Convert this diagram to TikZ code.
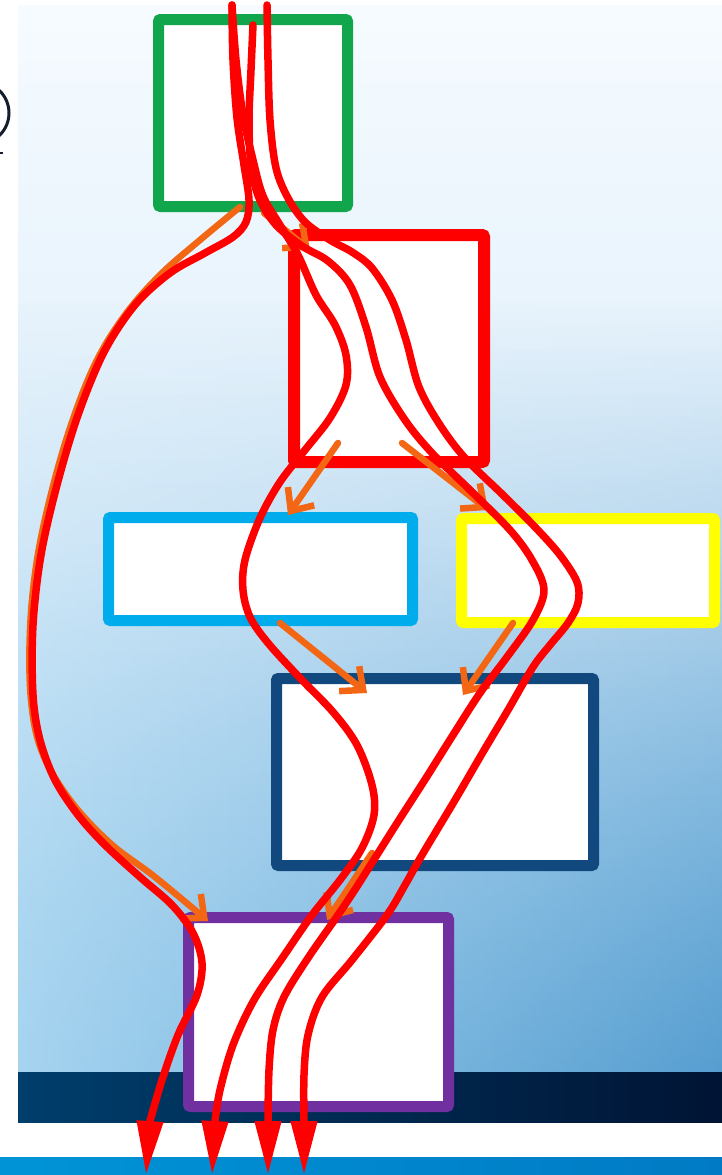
\documentclass[tikz,border=0pt]{standalone}
\usetikzlibrary{arrows.meta,fadings}
\definecolor{pgreen}{RGB}{18,166,76}
\definecolor{pred}{RGB}{255,0,0}
\definecolor{pcyan}{RGB}{0,172,236}
\definecolor{pyellow}{RGB}{255,255,0}
\definecolor{pnavy}{RGB}{17,72,125}
\definecolor{ppurple}{RGB}{112,48,160}
\definecolor{porange}{RGB}{242,102,20}
\definecolor{bgtop}{RGB}{246,251,255}
\definecolor{bgmid}{RGB}{222,238,250}
\definecolor{bgbot}{RGB}{166,212,240}
\definecolor{bgdark}{RGB}{60,140,198}
\definecolor{bandL}{RGB}{0,62,108}
\definecolor{bandR}{RGB}{0,20,52}
\definecolor{stripL}{RGB}{0,148,214}
\definecolor{stripR}{RGB}{0,122,196}
\definecolor{ink}{RGB}{20,30,45}
\begin{document}
\begin{tikzpicture}[x=1pt,y=-1pt,
  box/.style={draw, fill=white, line width=11pt, rounded corners=2pt, inner sep=0pt},
  flow/.style={draw=pred, line width=7.5pt, line cap=round, line join=round,
    -{Triangle[length=54pt,width=25pt]}},
  link/.style={draw=porange, line width=6.5pt, line cap=round, line join=round,
    -{Straight Barb[length=18pt,width=32pt]}}]
\useasboundingbox (0,0) rectangle (722,1175);
% background
\fill[white] (0,0) rectangle (722,1175);
\shade[top color=bgtop, bottom color=bgbot, middle color=bgmid] (18,5) rectangle (722,1072);
\shade[left color=bgbot, right color=bgdark, path fading=north, opacity=0.75] (18,300) rectangle (722,1072);
\shade[left color=bandL, right color=bandR] (18,1072) rectangle (722,1122);
\shade[left color=stripL, right color=stripR] (0,1157) rectangle (722,1175);
% partial mark at left edge
\draw[ink, line width=3pt] (-22,113) circle[radius=31pt];
\draw[ink, line width=2.5pt] (-2,153) -- (3,153);
% boxes
\node[box, draw=pgreen, minimum width=189pt, minimum height=187pt] (green) at (253,113) {};
\node[box, draw=pred, line width=12pt, minimum width=190pt, minimum height=227pt] (redbox) at (389,348.5) {};
\node[box, draw=pcyan, minimum width=304pt, minimum height=103pt] (cyan) at (260.5,569) {};
\node[box, draw=pyellow, minimum width=253pt, minimum height=104pt] (yellow) at (588,570.5) {};
\node[box, draw=pnavy, minimum width=317pt, minimum height=187pt] (navy) at (435,772) {};
\node[box, draw=ppurple, minimum width=260pt, minimum height=189pt] (purple) at (318.5,1012) {};
% connector end points
\coordinate (o1s) at (240,207);  \coordinate (o1e) at (208,921);
\coordinate (o2s) at (264,213);  \coordinate (o2e) at (310,250);
\coordinate (o3s) at (338,443);  \coordinate (o3e) at (288,515);
\coordinate (o4s) at (402,443);  \coordinate (o4e) at (488,510);
\coordinate (o5s) at (280,623);  \coordinate (o5e) at (367,693);
\coordinate (o6s) at (513,623);  \coordinate (o6e) at (463,695);
\coordinate (o7s) at (372,853);  \coordinate (o7e) at (327,920);
\coordinate (sA) at (232,5);   \coordinate (eA) at (146,1175);
\coordinate (sB) at (232,5);   \coordinate (eB) at (212,1175);
\coordinate (sC) at (253,25);  \coordinate (eC) at (268,1175);
\coordinate (sD) at (267,5);   \coordinate (eD) at (304,1175);
% orange flow arrows
\draw[link] plot[smooth, tension=0.6] coordinates {(o1s) (200,240) (160,275) (125,315) (96,362) (72,422) (52,490) (37,560) (30,630) (31,700) (42,752) (70,800) (110,843) (155,877) (o1e)};
\draw[link] (o2s) -- (o2e);
\draw[link] (o3s) -- (o3e);
\draw[link] (o4s) -- (o4e);
\draw[link] (o5s) -- (o5e);
\draw[link] (o6s) -- (o6e);
\draw[link] (o7s) -- (o7e);
% red paths
\draw[flow] plot[smooth, tension=0.55] coordinates {(sA) (233,60) (237,118) (244,165) (249,200) (246,222) (233,237) (205,253) (170,273) (135,305) (104,352) (78,415) (57,485) (41,555) (33,625) (33,695) (40,740) (55,780) (78,815) (105,845) (140,877) (172,905) (193,933) (202,963) (197,995) (178,1035) (162,1080) (150,1121)} -- (eA);
\draw[flow] plot[smooth, tension=0.55] coordinates {(sB) (236,60) (243,115) (253,160) (263,196) (280,225) (298,255) (316,295) (335,325) (346,355) (346,385) (330,418) (305,450) (280,482) (260,518) (245,560) (243,590) (250,617) (268,643) (300,678) (333,712) (357,745) (372,785) (374,815) (362,848) (340,880) (312,915) (283,957) (254,1000) (233,1045) (220,1090) (215,1121)} -- (eB);
\draw[flow] plot[smooth, tension=0.55] coordinates {(sC) (251,70) (249,120) (251,165) (259,198) (276,225) (302,246) (328,261) (350,285) (366,327) (380,377) (405,420) (432,453) (470,490) (510,530) (532,560) (544,590) (533,620) (507,657) (480,693) (453,735) (426,778) (399,820) (375,858) (356,888) (338,915) (308,958) (284,997) (273,1030) (269,1070) (268,1121)} -- (eC);
\draw[flow] plot[smooth, tension=0.55] coordinates {(sD) (268,60) (270,120) (276,168) (288,198) (305,222) (330,240) (352,252) (372,268) (392,300) (406,340) (419,387) (440,425) (465,458) (503,495) (535,527) (560,555) (577,582) (578,603) (568,623) (550,645) (533,667) (508,710) (483,752) (455,800) (422,855) (405,885) (387,915) (352,960) (322,997) (308,1035) (304,1075) (304,1121)} -- (eD);
\end{tikzpicture}
\end{document}
